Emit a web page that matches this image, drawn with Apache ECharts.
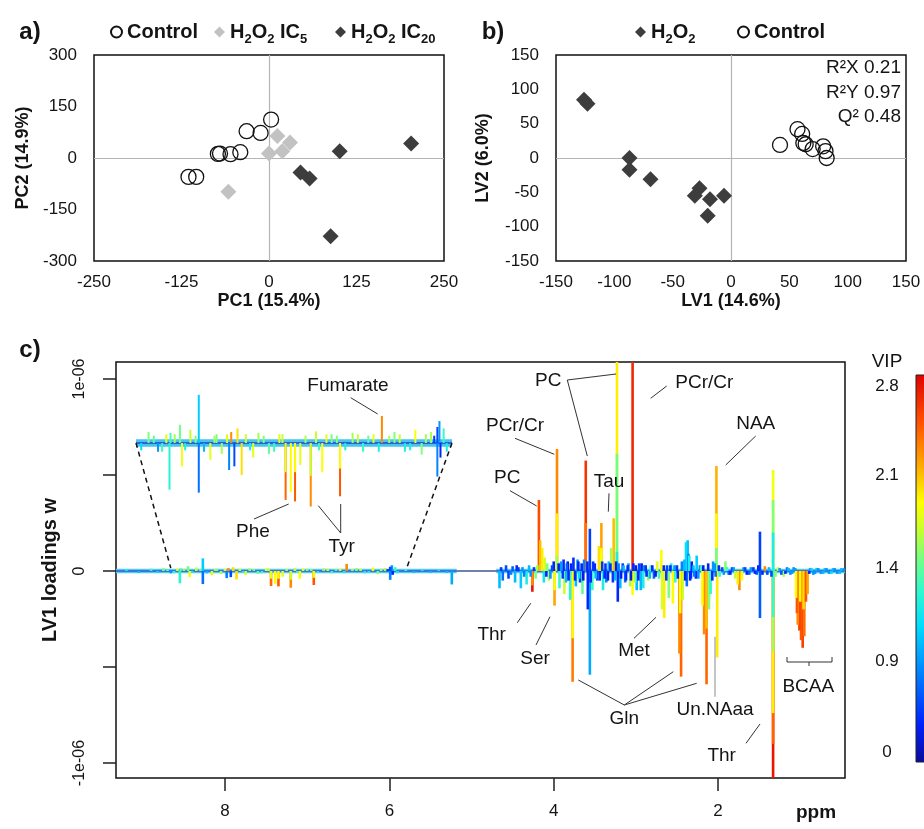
<!DOCTYPE html>
<html>
<head>
<meta charset="utf-8">
<script src="https://cdn.jsdelivr.net/npm/echarts@6/dist/echarts.min.js"></script>
<style>
  html, body { margin: 0; padding: 0; background: #ffffff; }
  #chart { width: 924px; height: 829px; }
</style>
</head>
<body>
<div id="chart"></div>
<script>
// ---------- a) PCA scores ----------
const pcaControl = [[3, 112], [-32, 78], [-12, 73], [-41, 17], [-55, 11], [-70, 13], [-73, 12], [-115, -55], [-104, -55]];
const pcaIC5 = [[12, 64], [30, 45], [19, 20], [0, 13], [-58, -98]];
const pcaIC20 = [[203, 42], [101, 20], [45, -42], [58, -60], [88, -228]];

// ---------- b) PLS-DA scores ----------
const plsH2O2 = [[-126, 85], [-123, 79], [-87, 0], [-87, -17], [-69, -31], [-27, -44], [-31, -55], [-18, -60], [-6, -55], [-20, -84]];
const plsControl = [[42, 19], [57, 42], [61, 35], [62, 22], [64, 20], [70, 13], [79, 17], [81, 10], [82, 0]];
const plsStats = ['R\u00B2X 0.21', 'R\u00B2Y 0.97', 'Q\u00B2 0.48'];

// ---------- c) LV1 loadings (ppm, loading in units of 1e-6, VIP) ----------
const LOADING_UNIT = 1e-6;
const aromaticPeaks = [
  [9.20, 0.01, 1.2], [9.05, -0.01, 1.0], [8.90, 0.012, 1.3], [8.82, -0.01, 1.1],
  [8.75, 0.015, 1.5], [8.70, 0.01, 1.4], [8.66, -0.012, 0.9], [8.62, -0.012, 1.3], [8.58, 0.012, 1.8],
  [8.55, -0.064, 1.25], [8.54, 0.014, 1.35], [8.50, 0.012, 1.6], [8.45, 0.025, 1.45], [8.43, -0.032, 1.85],
  [8.40, -0.01, 1.2], [8.35, 0.018, 1.7], [8.30, 0.01, 1.5], [8.27, 0.066, 1.05], [8.27, -0.068, 0.7],
  [8.22, -0.012, 1.0], [8.16, -0.023, 1.8], [8.12, 0.01, 1.6], [8.10, 0.012, 1.5], [8.05, -0.015, 1.6],
  [8.00, 0.012, 1.8], [7.98, -0.037, 0.8], [7.96, 0.015, 2.3], [7.93, -0.032, 0.5], [7.90, 0.02, 2.0],
  [7.86, -0.044, 2.0], [7.82, 0.012, 1.7], [7.78, -0.01, 1.2], [7.75, -0.02, 1.8], [7.70, 0.014, 1.6],
  [7.65, 0.01, 1.5], [7.60, -0.015, 1.4], [7.55, -0.012, 1.3], [7.50, 0.012, 1.8], [7.47, 0.012, 1.7],
  [7.44, -0.078, 2.45], [7.44, -0.04, 1.8], [7.39, -0.067, 1.9], [7.35, -0.080, 2.5], [7.35, -0.04, 1.9],
  [7.30, -0.03, 1.8], [7.25, 0.01, 1.6], [7.20, -0.087, 2.3], [7.20, -0.045, 1.7], [7.15, 0.016, 1.7],
  [7.12, -0.01, 1.3], [7.09, -0.040, 1.9], [7.05, 0.012, 1.8], [7.00, 0.012, 1.5], [6.95, 0.01, 1.5],
  [6.92, -0.073, 2.5], [6.92, -0.035, 1.9], [6.87, -0.01, 1.2], [6.80, 0.014, 1.6], [6.75, 0.012, 1.7],
  [6.70, -0.012, 1.3], [6.65, 0.01, 1.4], [6.60, 0.012, 1.8], [6.55, -0.012, 1.2], [6.52, 0.037, 2.3],
  [6.45, 0.01, 1.6], [6.40, 0.015, 1.5], [6.35, 0.012, 1.7], [6.30, -0.012, 1.2], [6.25, -0.01, 1.2],
  [6.20, 0.018, 1.9], [6.14, -0.016, 1.5], [6.10, 0.012, 1.6], [6.05, 0.015, 1.6], [6.02, 0.01, 0.4],
  [5.99, -0.046, 0.8], [5.99, 0.022, 0.5], [5.97, 0.03, 0.9], [5.96, -0.02, 0.3], [5.93, 0.02, 1.3],
  [5.90, -0.012, 1.2], [5.80, 0.01, 1.3], [5.70, -0.01, 1.0], [5.60, 0.01, 1.2], [5.50, -0.01, 1.0],
  [5.40, 0.01, 1.2], [5.30, -0.01, 1.0]
];
const aliphaticPeaks = [
  [5.24, -0.07, 0.95], [4.66, -0.09, 1.0], [4.64, 0.02, 0.4], [4.62, -0.05, 0.7], [4.58, 0.03, 0.5],
  [4.55, -0.04, 0.45], [4.52, -0.02, 0.8], [4.50, 0.025, 0.6], [4.47, -0.06, 1.0], [4.45, 0.03, 0.3],
  [4.43, 0.02, 0.4], [4.40, -0.09, 1.05], [4.38, 0.02, 0.9], [4.36, -0.03, 0.8], [4.33, -0.07, 1.2],
  [4.30, 0.03, 1.0], [4.28, -0.03, 0.9], [4.26, -0.108, 2.8], [4.26, -0.075, 2.3], [4.24, 0.02, 0.4],
  [4.22, -0.04, 1.5], [4.20, 0.03, 1.6], [4.18, 0.37, 2.55], [4.165, 0.16, 2.1], [4.14, 0.12, 1.95],
  [4.11, 0.07, 1.75], [4.12, -0.06, 1.15], [4.09, -0.03, 0.3], [4.08, 0.04, 1.5], [4.06, -0.05, 1.6],
  [4.04, -0.04, 0.9], [4.02, 0.03, 0.5], [4.00, 0.05, 0.3], [3.99, -0.18, 2.2], [3.99, -0.1, 1.85],
  [3.96, 0.635, 2.3], [3.96, 0.3, 1.95], [3.96, 0.08, 1.6], [3.94, 0.04, 0.2], [3.93, -0.09, 1.3],
  [3.91, 0.05, 0.9], [3.89, -0.04, 0.4], [3.88, 0.06, 0.3], [3.87, -0.12, 1.7], [3.85, -0.06, 1.0],
  [3.84, 0.04, 0.6], [3.83, 0.05, 0.2], [3.82, -0.05, 0.3], [3.80, -0.15, 1.25], [3.79, 0.04, 0.3],
  [3.77, -0.577, 2.35], [3.77, -0.35, 1.9], [3.76, 0.07, 0.35], [3.74, -0.05, 0.3], [3.73, -0.08, 1.0],
  [3.71, 0.06, 0.9], [3.70, 0.05, 0.3], [3.69, -0.04, 1.1], [3.68, -0.06, 0.4], [3.66, 0.04, 0.3],
  [3.65, -0.12, 1.4], [3.64, -0.05, 0.2], [3.63, 0.06, 0.8], [3.61, 0.575, 2.65], [3.61, 0.25, 2.4],
  [3.59, 0.05, 0.3], [3.585, -0.2, 0.3], [3.56, 0.22, 0.45], [3.56, -0.54, 0.95], [3.55, -0.06, 0.3],
  [3.53, -0.1, 1.3], [3.52, 0.05, 0.4], [3.50, 0.04, 0.3], [3.49, -0.04, 1.0], [3.47, -0.05, 0.5],
  [3.45, 0.13, 2.0], [3.44, -0.05, 0.3], [3.42, 0.25, 2.2], [3.42, 0.12, 1.9], [3.41, 0.05, 0.4],
  [3.40, -0.1, 1.2], [3.38, -0.04, 0.3], [3.37, 0.04, 0.4], [3.36, -0.06, 0.8], [3.34, -0.05, 0.2],
  [3.33, 0.05, 1.0], [3.31, 0.04, 0.3], [3.30, 0.12, 1.6], [3.28, -0.06, 0.4], [3.27, 0.275, 2.1],
  [3.25, -0.05, 1.0], [3.24, 0.05, 0.2], [3.23, 1.3, 1.95], [3.23, 0.61, 1.45], [3.23, 0.1, 1.2],
  [3.22, -0.16, 0.3], [3.21, 0.04, 0.8], [3.19, -0.09, 1.0], [3.18, -0.04, 0.2], [3.16, 0.04, 0.4],
  [3.15, 0.03, 1.0], [3.13, -0.06, 0.7], [3.12, -0.05, 0.3], [3.10, 0.03, 0.3], [3.09, 0.04, 0.9],
  [3.07, -0.08, 1.6], [3.06, -0.05, 0.2], [3.04, 1.3, 2.7], [3.04, -0.125, 1.9], [3.03, 0.04, 0.3],
  [3.01, -0.06, 1.5], [3.00, 0.03, 0.2], [2.99, -0.1, 1.0], [2.97, -0.05, 0.3], [2.96, 0.04, 0.5],
  [2.94, -0.1, 1.0], [2.93, 0.04, 0.2], [2.91, -0.09, 1.2], [2.90, 0.03, 0.9], [2.88, 0.03, 0.4],
  [2.87, -0.03, 0.3], [2.85, -0.05, 1.6], [2.83, -0.04, 1.0], [2.82, 0.03, 1.3], [2.80, 0.03, 0.3],
  [2.78, -0.04, 0.6], [2.76, -0.03, 0.2], [2.74, 0.05, 1.8], [2.72, -0.04, 1.3], [2.69, 0.11, 1.9],
  [2.68, -0.2, 1.75], [2.66, 0.03, 0.3], [2.655, -0.245, 1.95], [2.63, -0.05, 0.4], [2.62, 0.03, 0.5],
  [2.60, -0.14, 1.5], [2.58, 0.03, 0.3], [2.57, 0.04, 1.2], [2.55, -0.17, 1.9], [2.53, 0.03, 0.9],
  [2.52, -0.06, 1.3], [2.50, 0.03, 0.4], [2.49, -0.04, 0.3], [2.47, -0.43, 2.3], [2.46, -0.22, 1.9],
  [2.45, -0.55, 2.45], [2.44, 0.05, 0.8], [2.43, -0.15, 1.7], [2.41, 0.06, 1.0], [2.40, -0.05, 0.2],
  [2.39, 0.15, 1.1], [2.38, -0.08, 0.7], [2.37, 0.16, 1.0], [2.36, 0.09, 0.8], [2.35, 0.08, 1.2],
  [2.34, -0.05, 0.2], [2.33, -0.04, 0.3], [2.32, 0.05, 0.3], [2.30, 0.03, 1.0], [2.29, -0.03, 0.8],
  [2.27, -0.04, 0.3], [2.26, 0.08, 1.05], [2.24, -0.04, 0.9], [2.22, 0.03, 0.3], [2.21, 0.03, 1.3],
  [2.19, -0.18, 1.9], [2.18, 0.03, 0.2], [2.17, -0.33, 2.3], [2.14, -0.59, 2.45], [2.14, -0.3, 2.1],
  [2.12, 0.04, 0.3], [2.11, -0.2, 1.5], [2.09, -0.12, 1.3], [2.07, -0.05, 0.3], [2.06, 0.05, 0.9],
  [2.04, 0.04, 0.9], [2.03, -0.03, 0.7], [2.01, -0.45, 1.95], [2.02, 0.547, 2.15], [2.02, 0.3, 1.9],
  [2.02, 0.12, 1.45], [1.99, 0.03, 0.3], [1.98, -0.03, 1.3], [1.95, 0.02, 0.5], [1.93, -0.02, 0.9],
  [1.91, 0.05, 1.5], [1.89, 0.02, 1.3], [1.87, -0.02, 0.6], [1.85, -0.02, 0.3], [1.83, 0.02, 0.5],
  [1.81, 0.02, 0.9], [1.79, -0.04, 1.7], [1.76, -0.07, 1.95], [1.74, -0.1, 2.3], [1.71, -0.05, 1.9],
  [1.69, 0.02, 0.9], [1.67, 0.02, 0.5], [1.65, -0.02, 0.3], [1.62, -0.02, 0.6], [1.60, 0.02, 0.9],
  [1.57, 0.02, 0.4], [1.55, -0.015, 0.3], [1.53, -0.02, 0.6], [1.51, 0.03, 0.3], [1.49, 0.205, 0.45],
  [1.49, -0.245, 0.6], [1.46, -0.02, 0.3], [1.43, 0.025, 2.3], [1.40, -0.02, 0.5], [1.38, 0.02, 1.0],
  [1.35, -0.03, 0.5], [1.33, -1.3, 2.8], [1.33, -0.9, 2.45], [1.33, -0.74, 1.95], [1.33, -0.42, 1.6],
  [1.33, -0.24, 1.3], [1.33, 0.526, 1.85], [1.33, 0.37, 1.5], [1.33, 0.2, 1.2], [1.30, -0.03, 1.5],
  [1.27, 0.02, 1.7], [1.25, 0.015, 0.9], [1.23, -0.02, 0.6], [1.20, -0.03, 1.6], [1.18, -0.015, 0.3],
  [1.16, 0.02, 0.8], [1.14, 0.015, 1.0], [1.12, -0.02, 0.9], [1.10, -0.015, 0.9], [1.08, 0.02, 0.9],
  [1.06, 0.015, 0.9], [1.05, -0.14, 1.9], [1.04, -0.22, 2.5], [1.03, -0.28, 2.3], [1.01, -0.31, 2.6],
  [1.00, -0.16, 1.9], [0.99, -0.36, 2.5], [0.97, -0.40, 2.6], [0.96, -0.2, 2.0], [0.95, -0.34, 2.4],
  [0.93, -0.16, 2.5], [0.91, -0.12, 2.2], [0.89, -0.015, 0.3], [0.88, 0.015, 0.9], [0.86, 0.015, 1.1],
  [0.84, -0.02, 0.9], [0.82, -0.015, 0.9], [0.80, 0.015, 1.0], [0.78, 0.015, 0.9], [0.75, -0.015, 0.9],
  [0.72, -0.015, 1.0], [0.70, 0.015, 1.0], [0.68, 0.015, 0.9], [0.65, -0.015, 0.9], [0.62, -0.015, 1.1],
  [0.60, 0.015, 1.0], [0.58, 0.015, 0.9], [0.55, -0.015, 0.9], [0.52, -0.015, 1.0], [0.50, 0.015, 1.0],
  [0.47, 0.015, 0.9]
];
const baselineSpans = [[9.327, 5.18], [4.70, 0.455]];
const waterSpan = [[5.18, 4.70]];
const ppmRange = [0.455, 9.327];
const insetRange = [5.85, 8.87];           // magnified aromatic window
const insetAnchors = [8.66, 5.79];         // where the zoom guides meet the spectrum
const ppmTicks = [8, 6, 4, 2];
const vipTicks = [0, 0.9, 1.4, 2.1, 2.8];

// ---------- styling ----------
const FONT = '"Liberation Sans", Arial, Helvetica, sans-serif';
const INK = '#141414';
const VIP_POS = [0.026, 0.26, 0.5, 0.74, 0.97];   // colour-bar position of each VIP tick
const JET = [
  [0, '#0a0a9a'], [0.1, '#0022ff'], [0.24, '#0088ff'], [0.35, '#00dcff'], [0.44, '#30f8d0'],
  [0.52, '#70ff88'], [0.6, '#c8ff30'], [0.67, '#ffff00'], [0.76, '#ffae00'], [0.88, '#ff5000'], [1, '#e00000']
];

function hexRgb(h) { return [1, 3, 5].map(i => parseInt(h.substr(i, 2), 16)); }
function jetAt(p) {
  p = Math.max(0, Math.min(1, p));
  for (let i = 1; i < JET.length; i++) {
    if (p <= JET[i][0]) {
      const t = (p - JET[i - 1][0]) / (JET[i][0] - JET[i - 1][0]);
      const a = hexRgb(JET[i - 1][1]), b = hexRgb(JET[i][1]);
      const c = a.map((v, k) => Math.round(v + (b[k] - v) * t));
      return 'rgb(' + c.join(',') + ')';
    }
  }
  return JET[JET.length - 1][1];
}
function vipPos(v) {
  if (v <= vipTicks[0]) return VIP_POS[0];
  for (let i = 1; i < vipTicks.length; i++) {
    if (v <= vipTicks[i]) {
      const t = (v - vipTicks[i - 1]) / (vipTicks[i] - vipTicks[i - 1]);
      return VIP_POS[i - 1] + t * (VIP_POS[i] - VIP_POS[i - 1]);
    }
  }
  return VIP_POS[VIP_POS.length - 1];
}
const vipColor = v => jetAt(vipPos(v));

// ---------- series helpers ----------
function peakSeries(axis, peaks, width) {
  const data = peaks
    .map(p => [p[0], p[1] * LOADING_UNIT, p[2]])
    .sort((a, b) => Math.abs(b[1]) - Math.abs(a[1]));
  return {
    type: 'custom', xAxisIndex: axis, yAxisIndex: axis, silent: true, z: 4,
    encode: { x: 0, y: 1 },
    data,
    renderItem(params, api) {
      const cs = params.coordSys;
      const p0 = api.coord([api.value(0), 0]);
      const p1 = api.coord([api.value(0), api.value(1)]);
      const clampY = y => Math.max(cs.y, Math.min(cs.y + cs.height, y));
      return {
        type: 'line',
        shape: { x1: p0[0], y1: clampY(p0[1]), x2: p1[0], y2: clampY(p1[1]) },
        style: { stroke: vipColor(api.value(2)), lineWidth: width }
      };
    }
  };
}
function spanSeries(axis, spans, color, width, z) {
  return {
    type: 'custom', xAxisIndex: axis, yAxisIndex: axis, silent: true, z,
    encode: { x: [0, 1] },
    data: spans,
    renderItem(params, api) {
      const a = api.coord([api.value(0), 0]);
      const b = api.coord([api.value(1), 0]);
      return { type: 'line', shape: { x1: a[0], y1: a[1], x2: b[0], y2: b[1] }, style: { stroke: color, lineWidth: width } };
    }
  };
}
function scatter(name, axis, data, symbol, size, fill, border) {
  return {
    name, type: 'scatter', xAxisIndex: axis, yAxisIndex: axis, data, symbol, symbolSize: size, z: 5,
    itemStyle: { color: fill, borderColor: border, borderWidth: border ? 1.3 : 0, opacity: 1 }
  };
}
function zeroLines(axis) {
  return {
    type: 'line', xAxisIndex: axis, yAxisIndex: axis, data: [], silent: true, z: 1,
    markLine: {
      silent: true, symbol: 'none', animation: false, label: { show: false },
      lineStyle: { color: '#b4b4b4', width: 1.2, type: 'solid' },
      data: [{ xAxis: 0 }, { yAxis: 0 }]
    }
  };
}
function richName(name) {
  return ('{t|' + name.trim().replace(/(\d+)/g, '}{s|$1}{t|') + '}').replace(/\{t\|\}/g, '');
}
function legendAt(name, left) {
  return {
    data: [name], left, top: 17, itemWidth: 11, itemHeight: 11, selectedMode: false,
    formatter: richName,
    textStyle: {
      rich: {
        t: { fontFamily: FONT, fontSize: 20, fontWeight: 'bold', color: INK, lineHeight: 28, verticalAlign: 'middle' },
        s: { fontFamily: FONT, fontSize: 13, fontWeight: 'bold', color: INK, lineHeight: 14, verticalAlign: 'bottom' }
      }
    }
  };
}
function scoreAxes(idx, lim, step, xName, yName, yGap) {
  const lbl = { fontFamily: FONT, fontSize: 17, color: INK };
  const nameStyle = { fontFamily: FONT, fontSize: 18, fontWeight: 'bold', color: INK };
  return {
    x: {
      type: 'value', gridIndex: idx, min: -lim[0], max: lim[0], interval: step[0],
      axisLine: { show: false, onZero: false }, axisTick: { show: false }, splitLine: { show: false },
      axisLabel: Object.assign({ margin: 13 }, lbl),
      name: xName, nameLocation: 'middle', nameGap: 31, nameTextStyle: nameStyle
    },
    y: {
      type: 'value', gridIndex: idx, min: -lim[1], max: lim[1], interval: step[1],
      axisLine: { show: false, onZero: false }, axisTick: { show: false }, splitLine: { show: false },
      axisLabel: Object.assign({ margin: 17 }, lbl),
      name: yName, nameLocation: 'middle', nameRotate: 90, nameGap: yGap, nameTextStyle: nameStyle
    }
  };
}

const axA = scoreAxes(0, [250, 300], [125, 150], 'PC1 (15.4%)', 'PC2 (14.9%)', 62);
const axB = scoreAxes(1, [150, 150], [50, 50], 'LV1 (14.6%)', 'LV2 (6.0%)', 64);
const sciLabel = v => v === 0 ? '0' : Number(v).toExponential(0).replace(/e([+-])(\d)$/, 'e$10$2');

const gridBox = { show: true, borderColor: '#111', borderWidth: 1.5, backgroundColor: 'transparent' };

const option = {
  animation: false,
  backgroundColor: '#ffffff',
  textStyle: { fontFamily: FONT },
  grid: [
    Object.assign({ left: 94, top: 55, width: 350, height: 206 }, gridBox),
    Object.assign({ left: 556, top: 55, width: 350, height: 206 }, gridBox),
    Object.assign({ left: 116, top: 362, width: 729, height: 416 }, gridBox),
    { left: 136, top: 370, width: 316, height: 160.6, show: false }
  ],
  xAxis: [
    axA.x, axB.x,
    {
      type: 'value', gridIndex: 2, min: ppmRange[0], max: ppmRange[1], inverse: true,
      axisLine: { show: false, onZero: false }, splitLine: { show: false },
      axisTick: { show: true, customValues: ppmTicks, length: 13, lineStyle: { color: '#222', width: 1.5 } },
      axisLabel: { customValues: ppmTicks, fontFamily: FONT, fontSize: 17, color: INK, margin: 25 }
    },
    { type: 'value', gridIndex: 3, min: insetRange[0], max: insetRange[1], inverse: true, show: false }
  ],
  yAxis: [
    axA.y, axB.y,
    {
      type: 'value', gridIndex: 2, min: -1.078e-6, max: 1.0885e-6,
      axisLine: { show: false, onZero: false }, splitLine: { show: false },
      axisTick: { show: true, customValues: [-1e-6, -0.5e-6, 0, 0.5e-6, 1e-6], length: 13, lineStyle: { color: '#222', width: 1.5 } },
      axisLabel: { customValues: [-1e-6, 0, 1e-6], rotate: 90, formatter: sciLabel, fontFamily: FONT, fontSize: 16, color: INK, margin: 28 },
      name: 'LV1 loadings w', nameLocation: 'middle', nameRotate: 90, nameGap: 56,
      nameTextStyle: { fontFamily: FONT, fontSize: 20, fontWeight: 'bold', color: INK }
    },
    { type: 'value', gridIndex: 3, min: -0.12e-6, max: 0.1e-6, show: false }
  ],
  legend: [
    legendAt('Control', 105), legendAt('H2O2 IC5', 209), legendAt('H2O2 IC20', 330),
    legendAt('H2O2', 630), legendAt('Control ', 732)
  ],
  series: [
    zeroLines(0),
    scatter('Control', 0, pcaControl, 'circle', 15, 'rgba(0,0,0,0)', '#111'),
    scatter('H2O2 IC5', 0, pcaIC5, 'diamond', 16, '#c2c2c2'),
    scatter('H2O2 IC20', 0, pcaIC20, 'diamond', 16, '#3d3d3d'),
    zeroLines(1),
    scatter('H2O2', 1, plsH2O2, 'diamond', 16, '#3d3d3d'),
    scatter('Control ', 1, plsControl, 'circle', 15, 'rgba(0,0,0,0)', '#111'),
    // main spectrum
    spanSeries(2, baselineSpans, '#5cc8ec', 4.5, 2),
    spanSeries(2, baselineSpans, '#2460d8', 1.6, 3),
    spanSeries(2, waterSpan, '#3c5a8c', 1.4, 3),
    peakSeries(2, aromaticPeaks.concat(aliphaticPeaks), 2.6),
    // magnified aromatic window
    spanSeries(3, [insetRange], '#46c4ee', 7.5, 2),
    spanSeries(3, [insetRange], '#2a62dc', 2.2, 3),
    peakSeries(3, aromaticPeaks.filter(p => p[0] >= insetRange[0] && p[0] <= insetRange[1]), 2.0)
  ]
};

const chart = echarts.init(document.getElementById('chart'), null, { renderer: 'canvas' });
chart.setOption(option);

// ---------- annotations ----------
const txt = (text, x, y, size, opts) => Object.assign({
  type: 'text', x, y, silent: true, z: 20,
  style: Object.assign({ text, fontFamily: FONT, fontSize: size, fill: INK, align: 'center', verticalAlign: 'middle' }, opts || {})
});
const seg = (x1, y1, x2, y2, color, width, dash) => ({
  type: 'line', silent: true, z: 20, shape: { x1, y1, x2, y2 },
  style: { stroke: color || '#333', lineWidth: width || 1, lineDash: dash || null }
});

const labels = [
  ['Fumarate', 348, 386, [[350.7, 397.7, 377.7, 414]]],
  ['Phe', 253, 532, [[254, 519, 288.7, 504]]],
  ['Tyr', 341.7, 547, [[340.7, 533, 318.3, 505.7], [340.7, 533, 340.7, 504]]],
  ['PC', 548.3, 381, [[567.3, 380, 616, 374], [567.3, 380, 587.3, 456]]],
  ['PCr/Cr', 704.3, 383, [[666.7, 386, 650.7, 398.3]]],
  ['PCr/Cr', 515, 426, [[515, 438.3, 554.3, 454.3]]],
  ['PC', 507.3, 478, [[510, 490.7, 536.7, 506]]],
  ['Tau', 609, 482, [[609, 493.3, 608.3, 511.7]]],
  ['NAA', 755.7, 424, [[755.7, 436, 725.7, 465]]],
  ['Thr', 491.7, 635, [[517.3, 622.7, 530.7, 603.3]]],
  ['Ser', 535, 659, [[536, 645, 550, 616.7]]],
  ['Met', 634, 651, [[634, 638.3, 656, 617.3]]],
  ['Gln', 624.3, 719, [[624.3, 705, 578.3, 680], [624.3, 705, 673.3, 671.7], [624.3, 705, 696.7, 683.3]]],
  ['Un.NAaa', 715, 710, [[715, 696.7, 715, 636.7, '#8a8a8a']]],
  ['Thr', 721.7, 756, [[746, 743.3, 760, 724]]],
  ['BCAA', 808.3, 687, []]
];

const g = [];
g.push(txt('a)', 30, 32, 24, { fontWeight: 'bold' }));
g.push(txt('b)', 493, 32, 24, { fontWeight: 'bold' }));
g.push(txt('c)', 30, 350, 24, { fontWeight: 'bold' }));
plsStats.forEach((s, i) => g.push(txt(s, 901, 68 + i * 24.5, 19, { align: 'right' })));

labels.forEach(([t, x, y, lines]) => {
  g.push(txt(t, x, y, 19));
  lines.forEach(l => g.push(seg(l[0], l[1], l[2], l[3], l[4])));
});
// BCAA bracket
g.push({ type: 'polyline', silent: true, z: 20, shape: { points: [[787, 657], [787, 662], [832, 662], [832, 657]] }, style: { stroke: '#333', lineWidth: 1, fill: null } });
g.push(seg(809, 662, 809, 666));

g.push(txt('ppm', 816, 813, 19, { fontWeight: 'bold' }));

// zoom guides from the magnified window down to the spectrum
const inL = chart.convertToPixel({ xAxisIndex: 3, yAxisIndex: 3 }, [insetRange[1], 0]);
const inR = chart.convertToPixel({ xAxisIndex: 3, yAxisIndex: 3 }, [insetRange[0], 0]);
const mL = chart.convertToPixel({ xAxisIndex: 2, yAxisIndex: 2 }, [insetAnchors[0], 0.015e-6]);
const mR = chart.convertToPixel({ xAxisIndex: 2, yAxisIndex: 2 }, [insetAnchors[1], 0.015e-6]);
g.push(seg(inL[0], inL[1], mL[0], mL[1], '#111', 1.5, [5, 4]));
g.push(seg(inR[0], inR[1], mR[0], mR[1], '#111', 1.5, [5, 4]));

// VIP colour bar
const barTop = 375, barH = 387, barX = 916;
g.push({
  type: 'rect', silent: true, z: 20,
  shape: { x: barX, y: barTop, width: 14, height: barH },
  style: {
    fill: new echarts.graphic.LinearGradient(0, 0, 0, 1, JET.slice().reverse().map(s => ({ offset: 1 - s[0], color: s[1] }))),
    stroke: '#222', lineWidth: 1
  }
});
g.push(txt('VIP', 887, 362, 19));
vipTicks.forEach((v, i) => {
  g.push(txt(String(v), 887, barTop + barH - VIP_POS[i] * barH, 17));
});

chart.setOption({ graphic: g });
</script>
</body>
</html>
